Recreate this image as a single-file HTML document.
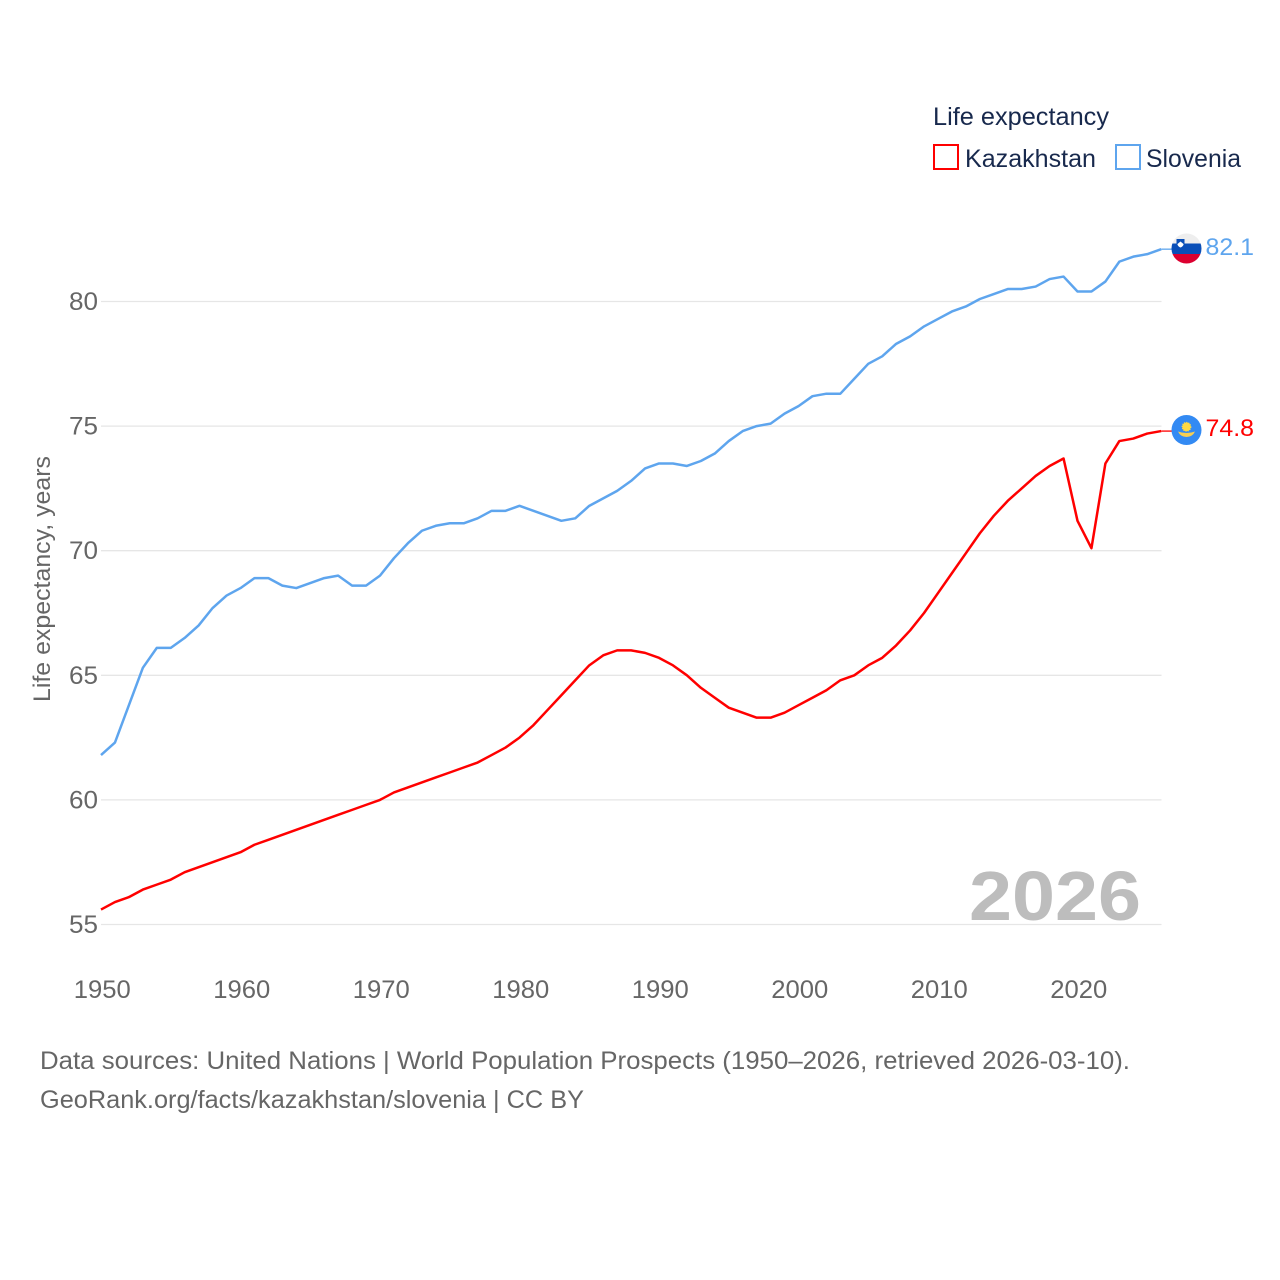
<!DOCTYPE html>
<html>
<head>
<meta charset="utf-8">
<title>Life expectancy: Kazakhstan and Slovenia</title>
<style>
html,body{margin:0;padding:0;background:#fff;}
svg{display:block;font-family:"Liberation Sans",sans-serif;}
</style>
</head>
<body>
<svg id="chart" width="1280" height="1280" viewBox="0 0 1280 1280" xmlns="http://www.w3.org/2000/svg">
  <rect width="1280" height="1280" fill="#fff"/>
  <g id="grid"></g>
  <g id="yticks"></g>
  <g id="xticks"></g>
  <text transform="translate(50 579) rotate(-90)" text-anchor="middle" font-size="24" fill="#666" textLength="246" lengthAdjust="spacingAndGlyphs">Life expectancy, years</text>
  <text x="969" y="920" font-size="70" font-weight="700" fill="#bdbdbd" textLength="172" lengthAdjust="spacingAndGlyphs">2026</text>
  <g id="series"></g>

  <g>
    <clipPath id="si-clip"><circle cx="1186.5" cy="248.5" r="15"/></clipPath>
    <g clip-path="url(#si-clip)">
      <rect x="1170" y="232" width="33" height="11.500" fill="#eeeeee"/>
      <rect x="1170" y="243.500" width="33" height="10.500" fill="#0a4fb8"/>
      <rect x="1170" y="254" width="33" height="12" fill="#dc0030"/>
      <path d="M1176.500 239h8v5.500q0 3-4 4q-4-1-4-4z" fill="#0a4fb8"/>
      <path d="M1177.500 244l3-2.500l3 2.500v.8q-1 2.200-3 2.700q-2-.5-3-2.700z" fill="#fff"/>
    </g>
  </g>
  <g>
    <circle cx="1186.500" cy="430" r="15" fill="#338af3"/>
    <circle cx="1186.500" cy="426.800" r="4.300" fill="#ffda44" stroke="#ffda44" stroke-width="1.200" stroke-dasharray="1.200 1" fill-opacity="1"/>
    <path d="M1178 431.500q4 1.500 8.500 1.500q4.500 0 8.500-1.500q-2.500 5.500-8.500 5.500q-6 0-8.500-5.500z" fill="#f7cf52"/>
  </g>
  <text x="1205.500" y="255" font-size="24.500" fill="#5ea5ee" textLength="48.500" lengthAdjust="spacingAndGlyphs">82.1</text>
  <text x="1205.500" y="436" font-size="24.500" fill="#ff0000" textLength="48.500" lengthAdjust="spacingAndGlyphs">74.8</text>

  <g>
    <text x="933" y="125" font-size="25" fill="#18294d" textLength="176" lengthAdjust="spacingAndGlyphs">Life expectancy</text>
    <g>
      <rect x="934" y="145" width="24" height="24" fill="#fff" stroke="#ff0000" stroke-width="2"/>
      <text x="965" y="167" font-size="25" fill="#18294d" textLength="131" lengthAdjust="spacingAndGlyphs">Kazakhstan</text>
    </g>
    <g>
      <rect x="1116" y="145" width="24" height="24" fill="#fff" stroke="#5ea5ee" stroke-width="2"/>
      <text x="1146" y="167" font-size="25" fill="#18294d" textLength="95" lengthAdjust="spacingAndGlyphs">Slovenia</text>
    </g>
  </g>

  <text x="40" y="1069" font-size="25" fill="#666" textLength="1090" lengthAdjust="spacingAndGlyphs">Data sources: United Nations | World Population Prospects (1950–2026, retrieved 2026-03-10).</text>
  <text x="40" y="1108" font-size="25" fill="#666" textLength="544" lengthAdjust="spacingAndGlyphs">GeoRank.org/facts/kazakhstan/slovenia | CC BY</text>
</svg>
<script>
var years = [];
for (var yr = 1950; yr <= 2026; yr++) { years.push(yr); }
var xTickLabels = [1950, 1960, 1970, 1980, 1990, 2000, 2010, 2020];
var yTickLabels = [55, 60, 65, 70, 75, 80];
var sloveniaValues = [61.8,62.3,63.8,65.3,66.1,66.1,66.5,67.0,67.7,68.2,68.5,68.9,68.9,68.6,68.5,68.7,68.9,69.0,68.6,68.6,69.0,69.7,70.3,70.8,71.0,71.1,71.1,71.3,71.6,71.6,71.8,71.6,71.4,71.2,71.3,71.8,72.1,72.4,72.8,73.3,73.5,73.5,73.4,73.6,73.9,74.4,74.8,75.0,75.1,75.5,75.8,76.2,76.3,76.3,76.9,77.5,77.8,78.3,78.6,79.0,79.3,79.6,79.8,80.1,80.3,80.5,80.5,80.6,80.9,81.0,80.4,80.4,80.8,81.6,81.8,81.9,82.1];
var kazakhstanValues = [55.6,55.9,56.1,56.4,56.6,56.8,57.1,57.3,57.5,57.7,57.9,58.2,58.4,58.6,58.8,59.0,59.2,59.4,59.6,59.8,60.0,60.3,60.5,60.7,60.9,61.1,61.3,61.5,61.8,62.1,62.5,63.0,63.6,64.2,64.8,65.4,65.8,66.0,66.0,65.9,65.7,65.4,65.0,64.5,64.1,63.7,63.5,63.3,63.3,63.5,63.8,64.1,64.4,64.8,65.0,65.4,65.7,66.2,66.8,67.5,68.3,69.1,69.9,70.7,71.4,72.0,72.5,73.0,73.4,73.7,71.2,70.1,73.5,74.4,74.5,74.7,74.8];

var NS = 'http://www.w3.org/2000/svg';
function xScale(v) { return 101 + (v - 1950) * 13.95; }
function yScale(v) { return 924.5 - (v - 55) * (924.5 - 301.5) / 25; }

var gridGroup = document.getElementById('grid');
var yTickGroup = document.getElementById('yticks');
var xTickGroup = document.getElementById('xticks');
var seriesGroup = document.getElementById('series');

yTickLabels.forEach(function (t) {
  var line = document.createElementNS(NS, 'line');
  line.setAttribute('x1', xScale(1950));
  line.setAttribute('x2', 1161.5);
  line.setAttribute('y1', yScale(t));
  line.setAttribute('y2', yScale(t));
  line.setAttribute('stroke', '#e6e6e6');
  line.setAttribute('stroke-width', '1.300');
  
  
  gridGroup.appendChild(line);

  var label = document.createElementNS(NS, 'text');
  label.setAttribute('x', 98);
  label.setAttribute('y', yScale(t) + 8.5);
  label.setAttribute('text-anchor', 'end');
  label.setAttribute('font-size', '25');
  label.setAttribute('fill', '#666');
  label.setAttribute('textLength', '29');
  label.setAttribute('lengthAdjust', 'spacingAndGlyphs');
  label.textContent = t;
  
  
  yTickGroup.appendChild(label);
});

xTickLabels.forEach(function (t) {
  var label = document.createElementNS(NS, 'text');
  label.setAttribute('x', xScale(t) + 1.3);
  label.setAttribute('y', 998);
  label.setAttribute('text-anchor', 'middle');
  label.setAttribute('font-size', '25');
  label.setAttribute('fill', '#666');
  label.setAttribute('textLength', '57');
  label.setAttribute('lengthAdjust', 'spacingAndGlyphs');
  label.textContent = t;
  
  
  xTickGroup.appendChild(label);
});

function buildPoints(values) {
  return values.map(function (v, i) {
    return xScale(years[i]).toFixed(2) + ',' + yScale(v).toFixed(2);
  }).join(' ');
}

var sloveniaLine = document.createElementNS(NS, 'polyline');
sloveniaLine.setAttribute('points', buildPoints(sloveniaValues));
sloveniaLine.setAttribute('fill', 'none');
sloveniaLine.setAttribute('stroke', '#5ea5ee');
sloveniaLine.setAttribute('stroke-width', '2.500');
sloveniaLine.setAttribute('stroke-linejoin', 'round');


seriesGroup.appendChild(sloveniaLine);

var kazakhstanLine = document.createElementNS(NS, 'polyline');
kazakhstanLine.setAttribute('points', buildPoints(kazakhstanValues));
kazakhstanLine.setAttribute('fill', 'none');
kazakhstanLine.setAttribute('stroke', '#ff0000');
kazakhstanLine.setAttribute('stroke-width', '2.500');
kazakhstanLine.setAttribute('stroke-linejoin', 'round');


seriesGroup.appendChild(kazakhstanLine);

var sloveniaLast = sloveniaValues[sloveniaValues.length - 1];
var sloveniaLeader = document.createElementNS(NS, 'line');
sloveniaLeader.setAttribute('x1', xScale(2026));
sloveniaLeader.setAttribute('x2', 1172);
sloveniaLeader.setAttribute('y1', yScale(sloveniaLast));
sloveniaLeader.setAttribute('y2', yScale(sloveniaLast));
sloveniaLeader.setAttribute('stroke', '#5ea5ee');
sloveniaLeader.setAttribute('stroke-width', '1.300');


seriesGroup.appendChild(sloveniaLeader);

var kazakhstanLast = kazakhstanValues[kazakhstanValues.length - 1];
var kazakhstanLeader = document.createElementNS(NS, 'line');
kazakhstanLeader.setAttribute('x1', xScale(2026));
kazakhstanLeader.setAttribute('x2', 1172);
kazakhstanLeader.setAttribute('y1', yScale(kazakhstanLast));
kazakhstanLeader.setAttribute('y2', yScale(kazakhstanLast));
kazakhstanLeader.setAttribute('stroke', '#ff0000');
kazakhstanLeader.setAttribute('stroke-width', '1.300');


seriesGroup.appendChild(kazakhstanLeader);
</script>
</body>
</html>
